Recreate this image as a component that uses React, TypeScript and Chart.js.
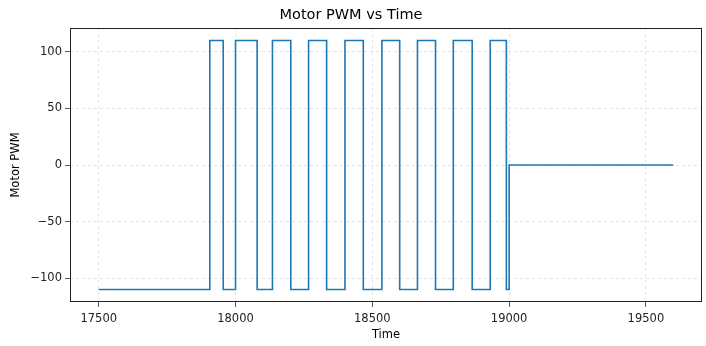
import React, { useEffect, useRef } from "react";
import { Chart, registerables } from "chart.js";

Chart.register(...registerables);

const times = [17500, 17906, 17955, 18000, 18079, 18135, 18202, 18267, 18333, 18400, 18467, 18535, 18600, 18665, 18731, 18796, 18865, 18931, 18990, 19000, 19600];
const pwm = [-110, 110, -110, 110, -110, 110, -110, 110, -110, 110, -110, 110, -110, 110, -110, 110, -110, 110, -110, 0, 0];
const xTicks = [17500, 18000, 18500, 19000, 19500];
const yTicks = [-100, -50, 0, 50, 100];

const FONT = "'DejaVu Sans', sans-serif";

const boxPlugin = {
  id: "boxPlugin",
  afterDraw(chart: any) {
    const { ctx, chartArea } = chart;
    ctx.save();
    ctx.strokeStyle = "#222";
    ctx.lineWidth = 1;
    ctx.strokeRect(
      Math.round(chartArea.left) + 0.5,
      Math.round(chartArea.top) + 0.5,
      Math.round(chartArea.right - chartArea.left) - 1,
      Math.round(chartArea.bottom - chartArea.top) - 1
    );
    ctx.restore();
  },
};

export default function App() {
  const ref = useRef<HTMLCanvasElement | null>(null);
  useEffect(() => {
    if (!ref.current) return;
    const data = times.map((t, i) => ({ x: t, y: pwm[i] }));
    const chart = new Chart(ref.current, {
      type: "line",
      data: {
        datasets: [
          {
            data,
            borderColor: "#1f77b4",
            borderWidth: 1.6,
            pointRadius: 0,
            stepped: "before",
            fill: false,
          },
        ],
      },
      options: {
        responsive: false,
        animation: false,
        layout: { padding: { right: 4, top: 0, left: 0, bottom: 0 } },
        plugins: {
          legend: { display: false },
          tooltip: { enabled: false },
          title: {
            display: true,
            text: "Motor PWM vs Time",
            color: "#000",
            font: { family: FONT, size: 14.5, weight: "normal" },
            padding: { top: 6.6, bottom: 4 },
          },
        },
        scales: {
          x: {
            type: "linear",
            min: 17395,
            max: 19705,
            afterBuildTicks: (s: any) => {
              s.ticks = xTicks.map((v) => ({ value: v }));
            },
            afterFit: (s: any) => {
              s.height = 44;
            },
            ticks: {
              color: "#222",
              font: { family: FONT, size: 11.5 },
              padding: 5,
              maxRotation: 0,
              callback: (v: any) => String(v),
            },
            grid: {
              color: "#dedede",
              borderDash: [3, 3],
              tickBorderDash: [],
              tickColor: "#333",
              tickLength: 5,
              lineWidth: 0.8,
            } as any,
            border: { display: false, dash: [3, 3] },
            title: {
              display: true,
              text: "Time",
              color: "#000",
              font: { family: FONT, size: 11.5 },
              padding: { top: 0, bottom: 4 },
            },
          },
          y: {
            type: "linear",
            min: -121,
            max: 121,
            afterBuildTicks: (s: any) => {
              s.ticks = yTicks.map((v) => ({ value: v }));
            },
            afterFit: (s: any) => {
              s.width = 70;
            },
            ticks: {
              color: "#222",
              font: { family: FONT, size: 11.5 },
              padding: 3,
              callback: (v: any) => (v < 0 ? "\u2212" + Math.abs(v) : String(v)),
            },
            grid: {
              color: "#dedede",
              tickColor: "#333",
              tickLength: 5,
              lineWidth: 0.8,
            },
            border: { display: false, dash: [3, 3] },
            title: {
              display: true,
              text: "Motor PWM",
              color: "#000",
              font: { family: FONT, size: 11.5 },
              padding: { top: 9, bottom: 0 },
            },
          },
        },
      } as any,
      plugins: [boxPlugin],
    });
    return () => chart.destroy();
  }, []);
  return (
    <div style={{ position: "fixed", left: 0, top: 0, width: 706, height: 346, background: "#fff" }}>
      <canvas ref={ref} width={706} height={346} />
    </div>
  );
}
